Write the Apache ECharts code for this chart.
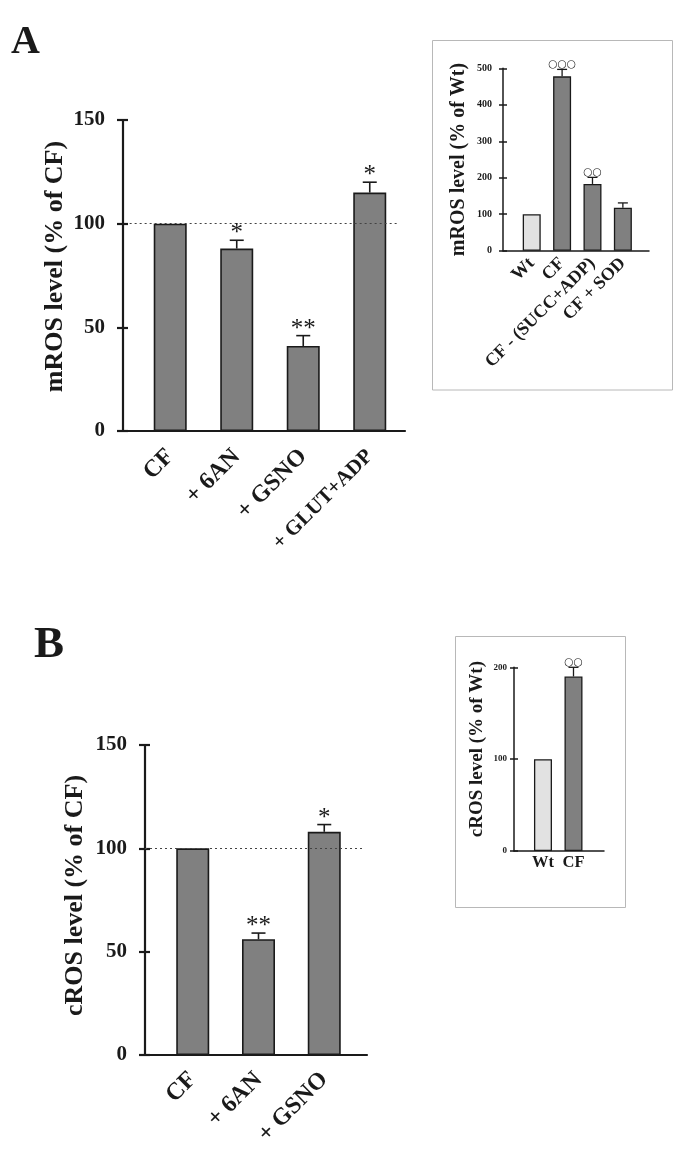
<!DOCTYPE html>
<html>
<head>
<meta charset="utf-8">
<script src="https://cdn.jsdelivr.net/npm/echarts@6/dist/echarts.min.js"></script>
<style>
html,body{margin:0;padding:0;background:#fff;}
#chart{width:683px;height:1158px;}
</style>
</head>
<body>
<div id="chart"></div>
<script>
// ---- Data ----
const aCats = ['CF', '+ 6AN', '+ GSNO', '+ GLUT+ADP'];
const aVals = [100, 88, 41, 115];
const aErr = [0, 4, 5, 5];
const aSig = ['', '*', '**', '*'];
const aTicks = [0, 50, 100, 150];

const aInCats = ['Wt', 'CF', 'CF - (SUCC+ADP)', 'CF + SOD'];
const aInVals = [100, 478, 183, 118];
const aInErr = [0, 19, 18, 13];
const aInSig = ['', '○○○', '○○', ''];
const aInTicks = [0, 100, 200, 300, 400, 500];

const bCats = ['CF', '+ 6AN', '+ GSNO'];
const bVals = [100, 56, 108];
const bErr = [0, 3, 3.5];
const bSig = ['', '**', '*'];
const bTicks = [0, 50, 100, 150];

const bInCats = ['Wt', 'CF'];
const bInVals = [100, 190];
const bInErr = [0, 10];
const bInSig = ['', '○○'];
const bInTicks = [0, 100, 200];

const refLine = 100;

// ---- Styles ----
const SERIF = "'Liberation Serif', 'Times New Roman', serif";
const INK = '#1a1a1a';
const GRAY = '#808080';
const LIGHT = '#e2e2e2';

const panels = [
  { cats: aCats, vals: aVals, err: aErr, sig: aSig, ticks: aTicks, name: 'mROS level (% of CF)',
    grid: { left: 123, top: 120, width: 282, height: 311 }, xmin: 0.29, xmax: 4.53,
    barW: 33, nameSize: 26, nameGap: 55, namePad: [0, 0, 0, 18], tickSize: 21, tickMargin: 18,
    xSize: 24, xRot: 45, xMargin: 22, smallSize: 21,
    sigFont: 25, sigFam: SERIF, sigGap: -6, capHalf: 7, axisW: 2.2, tickOut: 6, tickIn: 5, firstLight: false,
    ref: [0.39, 4.42], smallLast: true },
  { cats: aInCats, vals: aInVals, err: aInErr, sig: aInSig, ticks: aInTicks, name: 'mROS level (% of Wt)',
    grid: { left: 503, top: 68.3, width: 146, height: 182.4 }, xmin: 0.055, xmax: 4.86,
    barW: 18, nameSize: 20, nameGap: 34, namePad: [0, 0, 0, 0], tickSize: 10, tickMargin: 11,
    xSize: 18, xRot: 45, xMargin: 10,
    sigFont: 10.5, sigFam: "'DejaVu Sans', sans-serif", sigGap: 0, capHalf: 5, axisW: 1.5, tickOut: 4, tickIn: 4, firstLight: true },
  { cats: bCats, vals: bVals, err: bErr, sig: bSig, ticks: bTicks, name: 'cROS level (% of CF)',
    grid: { left: 145, top: 745, width: 222, height: 310 }, xmin: 0.274, xmax: 3.65,
    barW: 33, nameSize: 26, nameGap: 57, namePad: [0, 0, 0, 9], tickSize: 21, tickMargin: 18,
    xSize: 24, xRot: 45, xMargin: 21,
    sigFont: 25, sigFam: SERIF, sigGap: -6, capHalf: 7, axisW: 2.2, tickOut: 6, tickIn: 5, firstLight: false,
    ref: [0.274, 3.62] },
  { cats: bInCats, vals: bInVals, err: bInErr, sig: bInSig, ticks: bInTicks, name: 'cROS level (% of Wt)',
    grid: { left: 514, top: 667.3, width: 90, height: 183.7 }, xmin: 0.05, xmax: 3.0,
    barW: 18, nameSize: 19, nameGap: 27, namePad: [0, 0, 0, 20], tickSize: 9, tickMargin: 7,
    xSize: 16.5, xRot: 0, xMargin: 3,
    sigFont: 10.5, sigFam: "'DejaVu Sans', sans-serif", sigGap: 0, capHalf: 5, axisW: 1.5, tickOut: 4, tickIn: 4, firstLight: true }
];

const grids = [], xAxes = [], yAxes = [], series = [];
const N = panels.length;

panels.forEach((p, k) => {
  grids.push(Object.assign({ containLabel: false }, p.grid));
  const pos = p.cats.map((c, i) => i + 1);
  xAxes.push({
    type: 'value', gridIndex: k, min: p.xmin, max: p.xmax,
    splitLine: { show: false },
    axisLine: { show: true, onZero: false, lineStyle: { color: INK, width: p.axisW } },
    axisTick: { show: false },
    axisLabel: {
      customValues: pos, rotate: p.xRot, margin: p.xMargin,
      fontFamily: SERIF, fontWeight: 'bold', fontSize: p.xSize, color: INK,
      formatter: v => {
        const i = Math.round(v) - 1;
        const t = p.cats[i] || '';
        if (p.smallLast && i === p.cats.length - 1) return '{s|' + t + '}';
        return t;
      },
      rich: { s: { fontSize: p.smallSize || p.xSize, fontFamily: SERIF, fontWeight: 'bold', color: INK } }
    }
  });
  const ymax = p.ticks[p.ticks.length - 1];
  const intv = p.ticks[1] - p.ticks[0];
  // ticks + labels + name; shifted right so ticks straddle the axis line
  yAxes.push({
    type: 'value', gridIndex: k, position: 'left', offset: -p.tickIn,
    min: p.ticks[0], max: ymax, interval: intv,
    name: p.name, nameLocation: 'middle', nameGap: p.nameGap + p.tickIn, nameRotate: 90,
    nameTextStyle: { fontFamily: SERIF, fontWeight: 'bold', fontSize: p.nameSize, color: INK, padding: p.namePad },
    splitLine: { show: false },
    axisLine: { show: false },
    axisTick: { show: true, length: p.tickOut + p.tickIn, lineStyle: { color: INK, width: p.axisW } },
    axisLabel: { margin: p.tickMargin + p.tickIn, fontFamily: SERIF, fontWeight: 'bold', fontSize: p.tickSize, color: INK }
  });

  const barData = p.vals.map((v, i) => {
    const item = { value: [i + 1, v] };
    if (p.firstLight && i === 0) item.itemStyle = { color: LIGHT };
    return item;
  });
  const bar = {
    type: 'bar', xAxisIndex: k, yAxisIndex: k, barWidth: p.barW, data: barData,
    itemStyle: { color: GRAY, borderColor: INK, borderWidth: p.axisW > 2 ? 1.6 : 1.3 },
    emphasis: { disabled: true }, silent: true, z: 2
  };
  if (p.ref) {
    bar.markLine = {
      silent: true, symbol: 'none', label: { show: false },
      lineStyle: { color: '#444', width: 1, type: [2, 3] },
      data: [[{ coord: [p.ref[0], refLine] }, { coord: [p.ref[1], refLine] }]]
    };
  }
  series.push(bar);

  series.push({
    type: 'custom', xAxisIndex: k, yAxisIndex: k, z: 5, silent: true,
    data: p.vals.map((v, i) => [i + 1, v, p.err[i], i]),
    renderItem: (params, api) => {
      const x = api.value(0), v = api.value(1), e = api.value(2), i = api.value(3);
      const b = api.coord([x, v]);
      const t = api.coord([x, v + e]);
      const lw = p.axisW > 2 ? 1.6 : 1.3;
      const children = [];
      if (e > 0) {
        children.push({ type: 'line', shape: { x1: b[0], y1: b[1], x2: t[0], y2: t[1] },
          style: { stroke: INK, lineWidth: lw } });
        children.push({ type: 'line', shape: { x1: t[0] - p.capHalf, y1: t[1], x2: t[0] + p.capHalf, y2: t[1] },
          style: { stroke: INK, lineWidth: lw } });
      }
      const s = p.sig[i];
      if (s) {
        children.push({ type: 'text', style: {
          text: s, x: t[0], y: t[1] - p.sigGap, align: 'center', verticalAlign: 'bottom',
          fontFamily: p.sigFam, fontSize: p.sigFont, fontWeight: 'normal', fill: INK } });
      }
      return { type: 'group', children };
    }
  });
});

// Overlay grids: the vertical axis lines themselves
panels.forEach((p, k) => {
  grids.push(Object.assign({ containLabel: false }, p.grid));
  const ymax = p.ticks[p.ticks.length - 1];
  const intv = p.ticks[1] - p.ticks[0];
  xAxes.push({ type: 'value', gridIndex: N + k, min: p.xmin, max: p.xmax, show: false });
  yAxes.push({
    type: 'value', gridIndex: N + k, position: 'left', min: p.ticks[0], max: ymax, interval: intv,
    splitLine: { show: false },
    axisLine: { show: true, lineStyle: { color: INK, width: p.axisW } },
    axisTick: { show: false },
    axisLabel: { show: false }
  });
});

const chart = echarts.init(document.getElementById('chart'), null, { renderer: 'canvas' });
chart.setOption({
  backgroundColor: '#fff',
  animation: false,
  grid: grids, xAxis: xAxes, yAxis: yAxes, series: series,
  graphic: [
    { type: 'rect', shape: { x: 432.5, y: 40.5, width: 240, height: 349.5 },
      style: { fill: 'none', stroke: '#b8b8b8', lineWidth: 1 }, z: -1 },
    { type: 'rect', shape: { x: 455.5, y: 636.5, width: 170, height: 271 },
      style: { fill: 'none', stroke: '#b8b8b8', lineWidth: 1 }, z: -1 },
    { type: 'text', x: 11, y: 43, style: { text: 'A', fontFamily: SERIF, fontWeight: 'bold', fontSize: 40,
      fill: INK, verticalAlign: 'middle', align: 'left' } },
    { type: 'text', x: 34, y: 645, style: { text: 'B', fontFamily: SERIF, fontWeight: 'bold', fontSize: 45,
      fill: INK, verticalAlign: 'middle', align: 'left' } }
  ]
});
</script>
</body>
</html>
